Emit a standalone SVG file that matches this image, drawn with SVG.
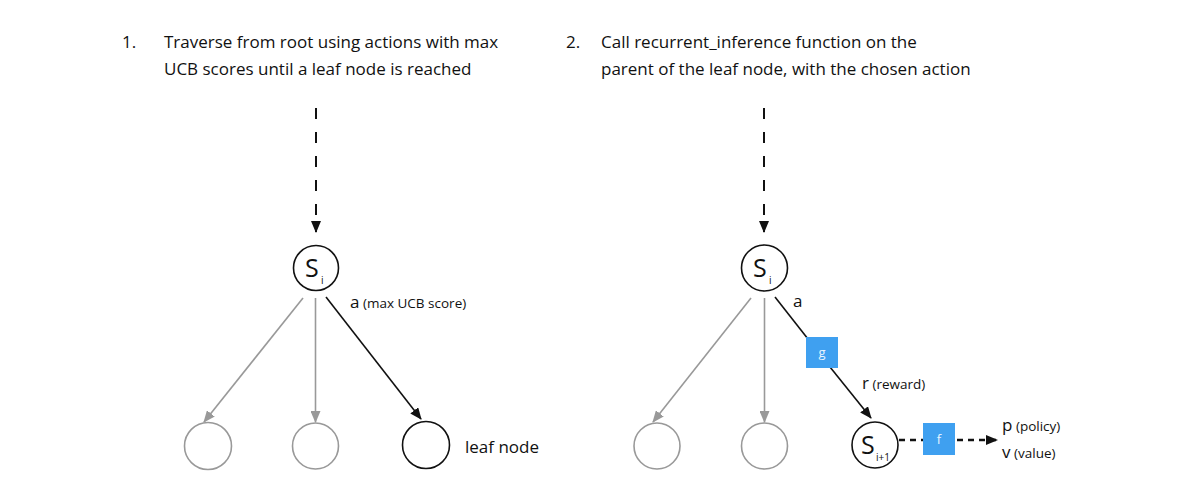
<svg xmlns="http://www.w3.org/2000/svg" width="1200" height="500" viewBox="0 0 1200 500">
<style>
text{font-family:"Open Sans","Liberation Sans",sans-serif;fill:#111}
.title{font-size:17px}
.lbl{font-size:17px}
.small{font-size:13.5px}
.node{fill:#fff;stroke:#111;stroke-width:1.6}
.gnode{fill:#fff;stroke:#999;stroke-width:1.6}
.black{stroke:#111;stroke-width:1.6;fill:none}
.gray{stroke:#999;stroke-width:1.6;fill:none}
.vdash{stroke:#111;stroke-width:2;stroke-dasharray:11 13;fill:none}
.hdash{stroke:#111;stroke-width:2.5;stroke-dasharray:6 5;fill:none}
.box{fill:#3fa0f0}
.boxt{font-size:13px;fill:#e8f4ff}
.s{font-size:25px}
.sub{font-size:10px}
</style>
<defs>
<marker id="ab" markerWidth="12" markerHeight="10" refX="11" refY="5" orient="auto" markerUnits="userSpaceOnUse"><path d="M0,0 L12,5 L0,10 z" fill="#111"/></marker>
<marker id="ag" markerWidth="12" markerHeight="10" refX="11" refY="5" orient="auto" markerUnits="userSpaceOnUse"><path d="M0,0 L12,5 L0,10 z" fill="#999"/></marker>
</defs>

<g id="titles">
<text class="title" x="122" y="48">1.</text>
<text class="title" x="164" y="48">Traverse from root using actions with max</text>
<text class="title" x="164" y="75">UCB scores until a leaf node is reached</text>
<text class="title" x="566" y="48">2.</text>
<text class="title" x="601" y="48">Call recurrent_inference function on the</text>
<text class="title" x="601" y="75">parent of the leaf node, with the chosen action</text>
</g>

<g id="connectors">
<line class="vdash" x1="316" y1="108" x2="316" y2="232" marker-end="url(#ab)"/>
<line class="gray" x1="303" y1="298" x2="204" y2="422" marker-end="url(#ag)"/>
<line class="gray" x1="315.5" y1="298" x2="315.5" y2="422" marker-end="url(#ag)"/>
<line class="black" x1="326" y1="297" x2="421" y2="419" marker-end="url(#ab)"/>

<line class="vdash" x1="764" y1="108" x2="764" y2="232" marker-end="url(#ab)"/>
<line class="gray" x1="751" y1="298" x2="653" y2="422" marker-end="url(#ag)"/>
<line class="gray" x1="764.5" y1="298" x2="764.5" y2="422" marker-end="url(#ag)"/>
<line class="black" x1="775" y1="297" x2="808" y2="339"/>
<line class="black" x1="830" y1="367" x2="871" y2="418" marker-end="url(#ab)"/>
<line class="hdash" x1="899" y1="440" x2="925" y2="440"/>
<line class="hdash" x1="957" y1="440" x2="997" y2="440" marker-end="url(#ab)"/>
</g>

<g id="left-root">
<circle class="node" cx="316" cy="268" r="22.5"/>
<text class="s" x="305" y="277">S</text><text class="sub" x="321" y="284">i</text>
</g>
<g id="left-child1"><circle class="gnode" cx="208" cy="446" r="23.5"/></g>
<g id="left-child2"><circle class="gnode" cx="315.5" cy="446" r="23"/></g>
<g id="leaf"><circle class="node" cx="426" cy="445" r="23.5"/></g>
<g id="left-labels">
<text x="350" y="308"><tspan class="lbl">a</tspan><tspan class="small"> (max UCB score)</tspan></text>
<text class="lbl" x="465" y="453">leaf node</text>
</g>

<g id="right-root">
<circle class="node" cx="764.5" cy="268" r="23"/>
<text class="s" x="753" y="277">S</text><text class="sub" x="769" y="284">i</text>
</g>
<g id="right-child1"><circle class="gnode" cx="657" cy="446" r="23"/></g>
<g id="right-child2"><circle class="gnode" cx="764.5" cy="446" r="23"/></g>
<g id="s-next">
<circle class="node" cx="875" cy="445" r="23"/>
<text class="s" x="861" y="454">S</text><text class="sub" x="876" y="461">i+1</text>
</g>
<g id="g-box">
<rect class="box" x="806" y="337" width="32" height="31"/>
<text class="boxt" x="822" y="357" text-anchor="middle">g</text>
</g>
<g id="f-box">
<rect class="box" x="923" y="423" width="32" height="32"/>
<text class="boxt" x="939" y="444" text-anchor="middle">f</text>
</g>
<g id="right-labels">
<text class="lbl" x="793" y="307">a</text>
<text x="862" y="389"><tspan class="lbl">r</tspan><tspan class="small"> (reward)</tspan></text>
<text x="1002" y="431"><tspan class="lbl">p</tspan><tspan class="small"> (policy)</tspan></text>
<text x="1002" y="458"><tspan class="lbl">v</tspan><tspan class="small"> (value)</tspan></text>
</g>
</svg>
